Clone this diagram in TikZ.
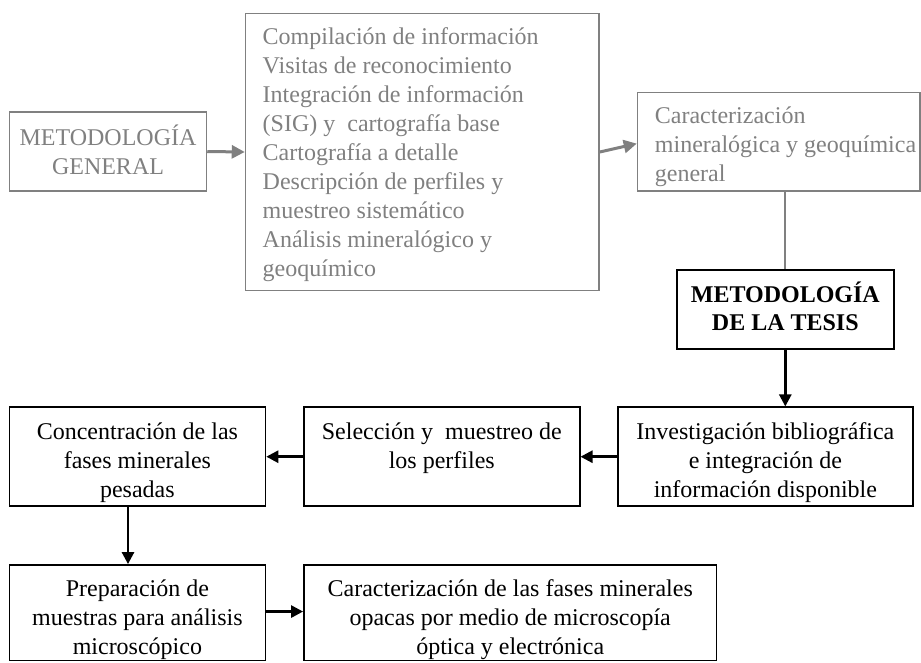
\documentclass[tikz,border=0pt]{standalone}
\usepackage{fontspec}
\setmainfont{Liberation Serif}
\usetikzlibrary{arrows.meta}
\definecolor{gline}{RGB}{128,128,128}
\definecolor{gtext}{RGB}{128,128,128}
\tikzset{
  gbox/.style={draw=gline, line width=1.5pt, rectangle, inner sep=0pt},
  bbox/.style={draw=black, line width=1.8pt, rectangle, inner sep=0pt},
  gtxt/.style={text=gtext, inner sep=0pt, font=\fontsize{24}{29}\selectfont},
  btxt/.style={text=black, inner sep=0pt, align=center, font=\fontsize{24}{29}\selectfont},
  garrow/.style={draw=gline, line width=3pt, -{Triangle[length=13pt,width=13pt]}},
  barrow/.style={draw=black, line width=2.6pt, -{Triangle[length=12pt,width=12pt]}},
  gline/.style={draw=gline, line width=2pt}
}
\begin{document}
\begin{tikzpicture}[x=1pt,y=-1pt]
\useasboundingbox (0,0) rectangle (921,662);
% top gray boxes
\node[gbox, minimum width=197pt, minimum height=79pt] (gen) at (108,151.5) {};
\node[gtxt, align=center] (gent) at (108,149.5) {METODOLOGÍA\\GENERAL};
\node[gbox, minimum width=353.5pt, minimum height=277pt] (big) at (422.25,152) {};
\node[gtxt, align=left, anchor=west] (bigt) at (262.5,154.5) {Compilación de información\\Visitas de reconocimiento\\Integración de información\\(SIG) y~ cartografía base\\Cartografía a detalle\\Descripción de perfiles y\\muestreo sistemático\\Análisis mineralógico y\\geoquímico};
\node[gbox, minimum width=282.5pt, minimum height=98.5pt] (car) at (778.75,141.8) {};
\node[gtxt, align=left, anchor=west] (cart) at (654.7,146.8) {Caracterización\\mineralógica y geoquímica\\general};
% tesis
\node[bbox, minimum width=216.7pt, minimum height=79.3pt] (tes) at (785.3,309.7) {};
\node[btxt, font=\fontsize{24}{28}\selectfont\bfseries] (test) at (785.3,306) {METODOLOGÍA\\DE LA TESIS};
% row 2
\node[bbox, minimum width=256pt, minimum height=98.7pt] (conc) at (137.4,456.7) {};
\node[btxt] (conct) at (137.4,462.4) {Concentración de las\\fases minerales\\pesadas};
\node[bbox, minimum width=275.6pt, minimum height=98.7pt] (sel) at (441.8,456.7) {};
\node[btxt] (selt) at (441.8,447.8) {Selección y~ muestreo de\\los perfiles};
\node[bbox, minimum width=295.3pt, minimum height=98.7pt] (inv) at (765.4,456.7) {};
\node[btxt] (invt) at (765.4,462.4) {Investigación bibliográfica\\e integración de\\información disponible};
% row 3
\node[bbox, minimum width=256pt, minimum height=95.5pt] (prep) at (137.4,612.75) {};
\node[btxt] (prept) at (137.4,620) {Preparación de\\muestras para análisis\\microscópico};
\node[bbox, minimum width=412.4pt, minimum height=95.5pt] (car2) at (510.2,612.75) {};
\node[btxt] (car2t) at (510.2,620) {Caracterización de las fases minerales\\opacas por medio de microscopía\\óptica y electrónica};
% connectors
\draw[garrow] (gen.east) -- (big.west);
\draw[garrow] ([yshift=0pt]big.east) -- ([yshift=-1.8pt]car.west);
\draw[gline] (car.south -| tes.north) -- (tes.north);
\draw[barrow] (tes.south) -- (tes.south |- inv.north);
\draw[barrow] (inv.west) -- (sel.east);
\draw[barrow] (sel.west) -- (conc.east);
\draw[barrow] ([xshift=-9.4pt]conc.south) -- ([xshift=-9.4pt]prep.north);
\draw[barrow] ([yshift=1.2pt]prep.east) -- ([yshift=1.2pt]prep.east -| car2.west);
\end{tikzpicture}
\end{document}
